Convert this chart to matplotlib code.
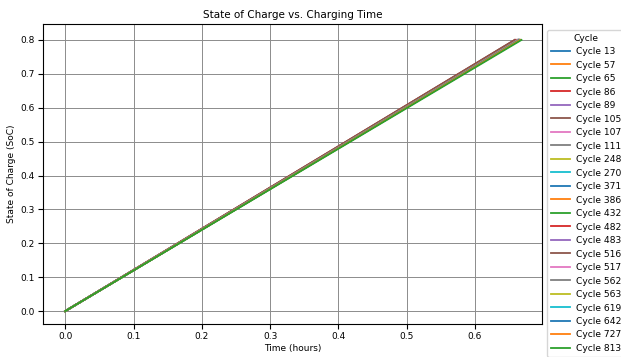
import matplotlib.pyplot as plt

# cycles shown in the legend
cycles = [13, 57, 65, 86, 89, 105, 107, 111, 248, 270, 371, 386,
          432, 482, 483, 516, 517, 562, 563, 619, 642, 727, 813]
# charging time (hours) at which each cycle reaches its final SoC
end_time = [0.663, 0.664, 0.665, 0.660, 0.663, 0.658, 0.662, 0.663, 0.662, 0.663, 0.663, 0.664,
            0.666, 0.659, 0.662, 0.658, 0.663, 0.664, 0.664, 0.665, 0.665, 0.666, 0.668]
end_soc = [0.80, 0.80, 0.80, 0.80, 0.80, 0.80, 0.80, 0.80, 0.80, 0.80, 0.80, 0.80,
           0.80, 0.80, 0.80, 0.80, 0.80, 0.80, 0.80, 0.80, 0.80, 0.80, 0.80]

plt.rcParams['font.size'] = 6.5
plt.rcParams['xtick.major.pad'] = 2.5
plt.rcParams['ytick.major.pad'] = 2.5

fig = plt.figure(figsize=(6.21, 3.57), dpi=100)
ax = fig.add_axes([43/621, 1-324/357, 499/621, 300/357])

for c, t, s in zip(cycles, end_time, end_soc):
    ax.plot([0, t], [0, s], label=f'Cycle {c}', linewidth=1.3)

ax.set_xlim(-0.0325, 0.698)
ax.set_ylim(-0.038, 0.847)
ax.set_title('State of Charge vs. Charging Time', fontsize=7.5, pad=4)
ax.set_xlabel('Time (hours)', fontsize=6.5, labelpad=2)
ax.set_ylabel('State of Charge (SoC)', fontsize=6.5, labelpad=3)
ax.grid(True, color='0.55', linewidth=0.7)
ax.legend(title='Cycle', loc='upper left', bbox_to_anchor=(1.01, 0.98),
          fontsize=6.6, title_fontsize=6.6, labelspacing=0.49, handlelength=2.1,
          handletextpad=0.7, borderaxespad=0)

fig.savefig('out.png', dpi=100)
